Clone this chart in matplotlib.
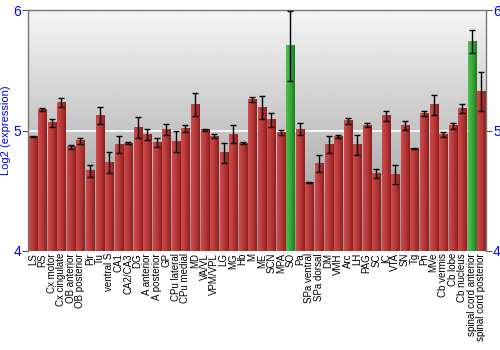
import numpy as np
import matplotlib
matplotlib.use("Agg")
import matplotlib.pyplot as plt
from matplotlib.colors import LinearSegmentedColormap

regions = ["LS", "RS", "Cx motor", "Cx cingulate", "OB anterior", "OB posterior", "Pir", "Tu",
           "ventral S", "CA1", "CA2/CA3", "DG", "A anterior", "A posterior", "GP", "CPu lateral",
           "CPu medial", "MD", "VA/VL", "VPM/VPL", "LG", "MG", "Hb", "M", "ME", "SCN", "MPA", "SO",
           "Pa", "SPa ventral", "SPa dorsal", "DM", "VMH", "Arc", "LH", "PAG", "SC", "IC", "VTA",
           "SN", "Tg", "Pn", "MVe", "Cb vermis", "Cb lobe", "Cb nucleus",
           "spinal cord anterior", "spinal cord posterior"]
values = [4.95, 5.175, 5.064, 5.233, 4.864, 4.917, 4.665, 5.122,
          4.734, 4.884, 4.897, 5.025, 4.967, 4.900, 5.008, 4.909,
          5.014, 5.216, 5.008, 4.953, 4.817, 4.970, 4.895, 5.258, 5.191, 5.089, 4.983, 5.704,
          5.011, 4.568, 4.729, 4.881, 4.953, 5.080, 4.881, 5.044, 4.645, 5.122, 4.634,
          5.042, 4.853, 5.141, 5.213, 4.970, 5.039, 5.183,
          5.737, 5.324]
errors = [0.004, 0.01, 0.035, 0.04, 0.02, 0.025, 0.05, 0.07,
          0.085, 0.073, 0.01, 0.09, 0.045, 0.04, 0.047, 0.09,
          0.03, 0.094, 0.008, 0.017, 0.083, 0.072, 0.007, 0.02, 0.094, 0.058, 0.02, 0.29,
          0.05, 0.003, 0.072, 0.07, 0.014, 0.023, 0.085, 0.017, 0.036, 0.039, 0.078,
          0.04, 0.003, 0.02, 0.082, 0.022, 0.025, 0.039,
          0.094, 0.163]
highlighted = ["SO", "spinal cord anterior"]
yticks = [4, 5, 6]

fig = plt.figure(figsize=(5, 3.5), dpi=100)
ax = fig.add_axes([0.056, 0.283, 0.916, 0.688])

x = np.arange(len(regions))
ax.set_xlim(-0.5, len(regions) - 0.5)
ax.set_ylim(4, 6)

# background gradient
bg = np.linspace(0.58, 0.96, 256).reshape(-1, 1)
ax.imshow(bg, extent=[0, 1, 0, 1], transform=ax.transAxes, cmap="gray", vmin=0, vmax=1,
          aspect="auto", origin="lower", zorder=0, interpolation="bilinear")
ax.axhline(5, color="white", lw=1.2, zorder=1)

red_cmap = LinearSegmentedColormap.from_list("r", ["#cc4a4a", "#b83838", "#8c1f1f"])
green_cmap = LinearSegmentedColormap.from_list("g", ["#4cc04c", "#38a838", "#227a22"])

bars = ax.bar(x, np.array(values) - 4, bottom=4, width=0.84, color="none", zorder=2)
grad = np.linspace(0, 1, 64).reshape(1, -1)
for name, b in zip(regions, bars):
    cmap = green_cmap if name in highlighted else red_cmap
    x0, w = b.get_x(), b.get_width()
    y0, h = b.get_y(), b.get_height()
    ax.imshow(grad, extent=[x0, x0 + w, y0, y0 + h], cmap=cmap, aspect="auto",
              zorder=2, interpolation="bilinear")
ax.set_xlim(-0.5, len(regions) - 0.5)
ax.set_ylim(4, 6)

ax.errorbar(x, values, yerr=errors, fmt="none", ecolor="black", elinewidth=1,
            capsize=2, capthick=1, zorder=3)

ax.set_xticks(x)
ax.set_xticklabels(regions, rotation=90, fontsize=7, family="Liberation Sans")
ax.tick_params(axis="x", length=0, pad=1.5)

ax.set_yticks(yticks)
ax.set_yticklabels([str(t) for t in yticks], color="blue", fontsize=10, family="Liberation Sans")
ax.tick_params(axis="y", direction="out", length=4, color="#555555", pad=1, right=True, labelright=True)
ax.set_ylabel("Log2 (expression)", color="blue", fontsize=8, family="Liberation Sans", labelpad=2)

for s in ["left", "right", "top"]:
    ax.spines[s].set_color("#777777")
    ax.spines[s].set_linewidth(1)
ax.spines["bottom"].set_visible(False)

fig.savefig("out.png", dpi=100)
